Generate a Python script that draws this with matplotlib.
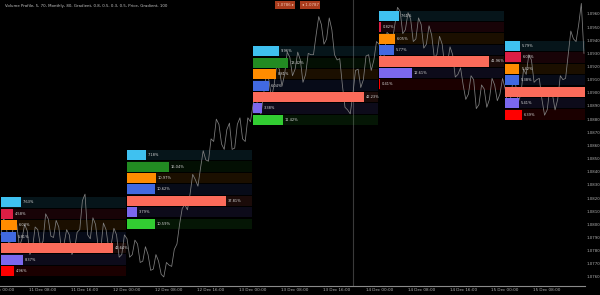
import matplotlib
matplotlib.use("Agg")
import matplotlib.pyplot as plt
import numpy as np

# ---------------- data ----------------
close_hour = [1.0792, 1.0798, 1.0790, 1.0800, 1.0789, 1.0795, 1.0782, 1.0796, 1.0787, 1.0804,
              1.0790, 1.0798, 1.0785, 1.0792, 1.0781, 1.0796, 1.0823, 1.0789, 1.0800, 1.0781,
              1.0796, 1.0785, 1.0792, 1.0777, 1.0789, 1.0777, 1.0785, 1.0772, 1.0777, 1.0766,
              1.0772, 1.0760, 1.0769, 1.0781, 1.0800, 1.0815, 1.0823, 1.0834, 1.0843, 1.0849,
              1.0865, 1.0880, 1.0861, 1.0872, 1.0857, 1.0876, 1.0865, 1.0881, 1.0891, 1.0887,
              1.0899, 1.0910, 1.0906, 1.0918, 1.0914, 1.0927, 1.0918, 1.0925, 1.0914, 1.0929,
              1.0944, 1.0952, 1.0941, 1.0948, 1.0925, 1.0906, 1.0887, 1.0899, 1.0918, 1.0910,
              1.0929, 1.0925, 1.0937, 1.0929, 1.0944, 1.0952, 1.0962, 1.0948, 1.0956, 1.0941,
              1.0952, 1.0937, 1.0944, 1.0929, 1.0937, 1.0922, 1.0929, 1.0914, 1.0906, 1.0899,
              1.0910, 1.0891, 1.0903, 1.0895, 1.0906, 1.0899, 1.0903, 1.0895, 1.0906, 1.0899,
              1.0914, 1.0925, 1.0910, 1.0895, 1.0887, 1.0899, 1.0895, 1.0910, 1.0929, 1.0941,
              1.0952, 1.0930]
close_half = [1.0805, 1.0784, 1.0801, 1.0783, 1.0800, 1.0777, 1.0798, 1.0784, 1.0808, 1.0791,
              1.0803, 1.0781, 1.0796, 1.0777, 1.0794, 1.0818, 1.0792, 1.0805, 1.0783, 1.0801,
              1.0782, 1.0797, 1.0775, 1.0792, 1.0775, 1.0788, 1.0771, 1.0783, 1.0765, 1.0777,
              1.0762, 1.0771, 1.0768, 1.0785, 1.0812, 1.0811, 1.0838, 1.0829, 1.0856, 1.0848,
              1.0863, 1.0876, 1.0857, 1.0877, 1.0858, 1.0881, 1.0863, 1.0878, 1.0899, 1.0884,
              1.0913, 1.0896, 1.0921, 1.0905, 1.0931, 1.0913, 1.0931, 1.0908, 1.0930, 1.0929,
              1.0958, 1.0937, 1.0957, 1.0929, 1.0926, 1.0889, 1.0884, 1.0917, 1.0904, 1.0928,
              1.0917, 1.0939, 1.0923, 1.0946, 1.0939, 1.0965, 1.0945, 1.0961, 1.0939, 1.0957,
              1.0934, 1.0951, 1.0927, 1.0943, 1.0920, 1.0935, 1.0912, 1.0919, 1.0895, 1.0913,
              1.0888, 1.0906, 1.0889, 1.0911, 1.0894, 1.0911, 1.0889, 1.0910, 1.0893, 1.0918,
              1.0929, 1.0908, 1.0911, 1.0883, 1.0903, 1.0887, 1.0913, 1.0911, 1.0947, 1.0939,
              1.0968]

block_start = [0, 24, 48, 72, 96]
block_top = [1.0821, 1.0857, 1.0936, 1.0963, 1.0940]
block_colors = [
    ["#3fc1f0", "#dc1e44", "#ff8c00", "#4169e1", "#fb6b5a", "#7b68ee", "#ff0000"],
    ["#3fc1f0", "#228b22", "#ff8c00", "#4169e1", "#fb6b5a", "#7b68ee", "#32cd32"],
    ["#3fc1f0", "#228b22", "#ff8c00", "#4169e1", "#fb6b5a", "#7b68ee", "#32cd32"],
    ["#3fc1f0", "#dc1e44", "#ff8c00", "#4169e1", "#fb6b5a", "#7b68ee", "#ff0000"],
    ["#3fc1f0", "#dc1e44", "#ff8c00", "#4169e1", "#fb6b5a", "#7b68ee", "#ff0000"],
]
block_pct = [
    [7.63, 4.58, 6.02, 5.81, 42.64, 8.37, 4.96],
    [7.18, 16.04, 10.97, 10.62, 37.81, 3.79, 10.59],
    [9.96, 13.42, 8.81, 6.04, 42.23, 3.38, 11.42],
    [7.61, 0.82, 6.05, 5.77, 41.96, 12.61, 0.41],
    [5.79, 6.03, 5.42, 5.38, 42.07, 5.41, 6.39],
]

y_ticks = [1.0960, 1.0950, 1.0940, 1.0930, 1.0920, 1.0910, 1.0900, 1.0890, 1.0880, 1.0870,
           1.0860, 1.0850, 1.0840, 1.0830, 1.0820, 1.0810, 1.0800, 1.0790, 1.0780, 1.0770,
           1.0760]
x_ticks = [0, 8, 16, 24, 32, 40, 48, 56, 64, 72, 80, 88, 96, 104]
x_labels = ["11 Dec 00:00", "11 Dec 08:00", "11 Dec 16:00", "12 Dec 00:00", "12 Dec 08:00",
            "12 Dec 16:00", "13 Dec 00:00", "13 Dec 08:00", "13 Dec 16:00", "14 Dec 00:00",
            "14 Dec 08:00", "14 Dec 16:00", "15 Dec 00:00", "15 Dec 08:00"]
session_line = 67.0

# interleave hourly and half-hour closes
price = []
for i, c in enumerate(close_hour):
    price.append(c)
    if i < len(close_half):
        price.append(close_half[i])
t = np.arange(len(price)) * 0.5

# ---------------- figure ----------------
fig = plt.figure(figsize=(6, 2.95), dpi=100, facecolor="black")
ax = fig.add_axes([0, 9 / 295, 585 / 600, 286 / 295])
ax.set_facecolor("black")
x_max = 111.2
ax.set_xlim(-0.19, x_max)
ax.set_ylim(1.07531, 1.09706)

row_h = 0.00087
block_w = 24
pct_to_hours = 0.5

for s, top, cols, pcts in zip(block_start, block_top, block_colors, block_pct):
    for i, (c, p) in enumerate(zip(cols, pcts)):
        y_center = top - (i + 0.5) * row_h
        ax.barh(y_center, block_w - 0.15, left=s, height=row_h * 0.9,
                color=c, alpha=0.11, linewidth=0, zorder=1)
        L = p * pct_to_hours
        ax.barh(y_center, L, left=s, height=row_h * 0.88,
                color=c, linewidth=0, zorder=3)
        if s + L + 4 < x_max:
            ax.text(s + L + 0.35, y_center, f"{p:.2f}%", color="#d8d8d8",
                    fontsize=2.6, va="center", ha="left", zorder=4, clip_on=True)

ax.axvline(session_line, color="#3a3a3a", lw=0.8, zorder=0.5)
ax.plot(t, price, color="#808080", lw=0.55, zorder=2)

for sp in ["top", "left", "right"]:
    ax.spines[sp].set_visible(False)
ax.spines["bottom"].set_color("#8a8a8a")
ax.spines["bottom"].set_linewidth(0.8)

ax.yaxis.tick_right()
ax.set_yticks(y_ticks)
ax.set_yticklabels([f"{v:.4f}" for v in y_ticks])
ax.tick_params(axis="y", length=0, pad=0.8, labelsize=2.8, labelcolor="#b4b4b4")
ax.set_xticks(x_ticks)
ax.set_xticklabels(x_labels)
ax.tick_params(axis="x", length=0, pad=1.5, labelsize=3.0, labelcolor="#b4b4b4")

fig.text(0.008, 0.986, "Volume Profile, 5, 70, Monthly, 80, Gradient, 0.8, 0.5, 0.3, 0.5, Price, Gradient, 100",
         color="#c8c8c8", fontsize=2.8, va="top", ha="left")
fig.text(285 / 600, 1 - 5 / 295, "1.0786 ▸", color="#f3c9b8", fontsize=2.8, ha="center", va="center",
         bbox=dict(boxstyle="square,pad=0.4", fc="#a93c1d", ec="none"))
fig.text(310 / 600, 1 - 5 / 295, "◂ 1.0787", color="#f3c9b8", fontsize=2.8, ha="center", va="center",
         bbox=dict(boxstyle="square,pad=0.4", fc="#a93c1d", ec="none"))

fig.savefig("out.png", dpi=100, facecolor="black")
